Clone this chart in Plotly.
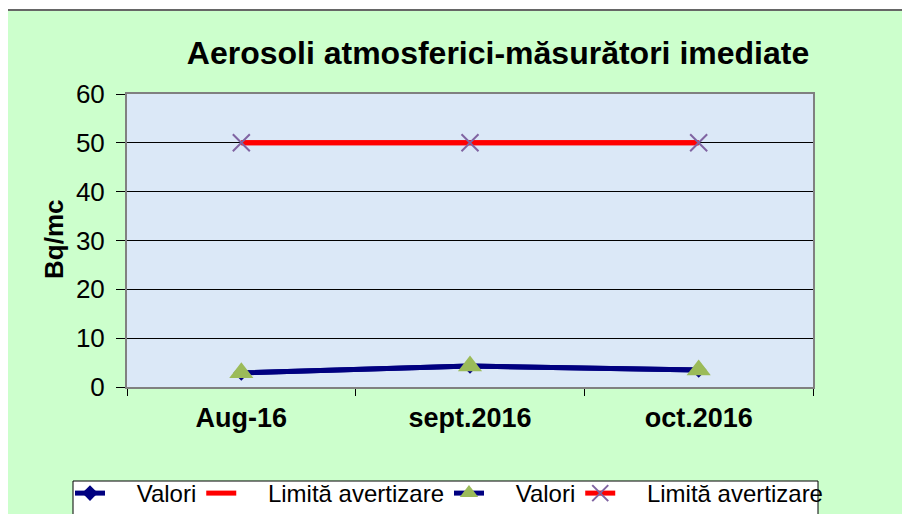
import plotly.graph_objs as go

# data
luni = ['Aug-16', 'sept.2016', 'oct.2016']
valori = [2.9, 4.3, 3.5]
limita = [50, 50, 50]
y_ticks = [0, 10, 20, 30, 40, 50, 60]

# the page adds an 8px body margin, so work in figure pixels = page pixels - 8
OFF = 8
W, H = 910 - OFF, 514 - OFF
L, T = 127 - OFF, 94 - OFF
R, B = W - (813 - OFF), H - (387 - OFF)
pw, ph = W - L - R, H - T - B


def px(x):
    return (x - OFF - L) / pw


def py(y):
    return (H - B - (y - OFF)) / ph


font = 'Liberation Sans, Arial, sans-serif'
sp = '\u00a0' * 4  # push legend text away from the short legend symbol

traces = [
    go.Scatter(x=luni, y=valori, name=sp + 'Valori', mode='lines+markers',
               line=dict(color='#000080', width=5),
               marker=dict(symbol='diamond', size=12, color='#000080')),
    go.Scatter(x=luni, y=limita, name=sp + 'Limită avertizare', mode='lines',
               line=dict(color='#ff0000', width=5)),
    go.Scatter(x=luni, y=valori, name=sp + 'Valori', mode='lines+markers',
               line=dict(color='#000080', width=5),
               marker=dict(symbol='triangle-up', size=21, color='#9bbb59')),
    go.Scatter(x=luni, y=limita, name=sp + 'Limită avertizare', mode='lines+markers',
               line=dict(color='#ff0000', width=5),
               marker=dict(symbol='x-thin', size=17, line=dict(color='#8064a2', width=2))),
]

layout = go.Layout(
    width=W, height=H,
    margin=dict(l=L, r=R, t=T, b=B, autoexpand=False),
    paper_bgcolor='white', plot_bgcolor='#dbe8f7',
    font=dict(family=font, color='black'),
    title=dict(text='<b>Aerosoli atmosferici-măsurători imediate</b>',
               font=dict(size=32, family=font), xref='paper', x=px(498), xanchor='center',
               yref='container', y=1 - (53 - OFF) / H, yanchor='middle'),
    xaxis=dict(type='category', range=[-0.5, 2.5], tickson='boundaries', ticks='outside',
               ticklen=7, tickcolor='black', showline=True, linecolor='#808080', linewidth=2,
               mirror=True, showgrid=False, tickfont=dict(size=27), ticklabelstandoff=6,
               tickprefix='<b>', ticksuffix='</b>'),
    yaxis=dict(range=[0, 60], tickvals=y_ticks, ticks='outside', ticklen=9, tickcolor='black',
               showline=True, linecolor='#808080', linewidth=2, mirror=True,
               showgrid=True, gridcolor='black', gridwidth=1, zeroline=False,
               tickfont=dict(size=26), ticklabelstandoff=6),
    showlegend=True,
    legend=dict(orientation='h', xref='paper', yref='paper', x=px(70), y=py(471),
                xanchor='left', yanchor='top', bgcolor='rgba(0,0,0,0)', borderwidth=0,
                font=dict(size=24, family=font), tracegroupgap=0, itemwidth=30),
    shapes=[
        dict(type='rect', xref='paper', yref='paper', x0=px(7), x1=px(914), y0=py(520), y1=py(10),
             fillcolor='#ccffcc', line=dict(color='#666666', width=2), layer='below'),
        dict(type='rect', xref='paper', yref='paper', x0=0, x1=1, y0=0, y1=1,
             fillcolor='#dbe8f7', line=dict(width=0), layer='below'),
        # legend box
        dict(type='rect', xref='paper', yref='paper', x0=px(73), x1=px(818), y0=py(530), y1=py(481),
             fillcolor='white', line=dict(color='black', width=1), layer='below'),
    ],
    annotations=[
        dict(text='<b>Bq/mc</b>', xref='paper', yref='paper', x=px(54), y=py(240),
             textangle=-90, showarrow=False, font=dict(size=26, family=font),
             xanchor='center', yanchor='middle'),
    ],
)

fig = go.Figure(data=traces, layout=layout)
fig.write_html('out.html')
